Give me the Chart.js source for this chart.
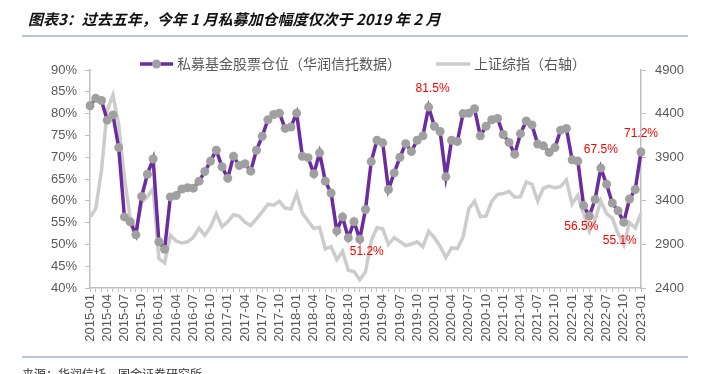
<!DOCTYPE html>
<html>
<head>
<meta charset="utf-8">
<script src="https://cdn.jsdelivr.net/npm/chart.js@4.4.1/dist/chart.umd.min.js"></script>
<style>
  html, body { margin: 0; padding: 0; background: #fff; }
  #wrap { width: 710px; height: 374px; position: relative; overflow: hidden; }
</style>
</head>
<body>
<div id="wrap"><canvas id="c" width="710" height="374"></canvas></div>
<script>
// ---- Data ----
const startYear = 2015;
const months = [];
for (let i = 0; i < 97; i++) {
  const y = startYear + Math.floor(i / 12);
  const m = (i % 12) + 1;
  months.push(y + '-' + (m < 10 ? '0' + m : m));
}

// 私募基金股票仓位（华润信托数据）, %
const privatePosition = [
  81.8, 83.5, 83.0, 78.5, 79.7, 72.2, 56.3, 55.2, 52.2, 61.0, 66.1, 69.6,
  50.6, 48.9, 60.9, 61.2, 62.7, 63.0, 62.9, 64.5, 66.7, 69.1, 71.6, 67.8,
  65.2, 70.2, 68.1, 68.5, 66.8, 71.6, 74.8, 78.6, 79.8, 80.1, 76.6, 76.9,
  80.1, 70.2, 69.9, 66.2, 71.0, 64.5, 61.8, 53.1, 56.3, 51.5, 55.2, 51.2,
  58.0, 69.0, 73.9, 73.3, 62.6, 66.4, 70.0, 73.1, 71.3, 73.9, 74.9, 81.5,
  77.1, 75.9, 65.5, 73.9, 73.6, 80.0, 80.1, 81.1, 74.9, 77.1, 78.6, 78.9,
  75.2, 73.4, 70.7, 75.4, 78.3, 77.4, 73.0, 72.6, 71.1, 72.2, 76.2, 76.6,
  69.4, 69.1, 58.9, 56.5, 60.3, 67.5, 63.8, 59.5, 57.7, 55.1, 60.4, 62.6,
  71.2
];

// 上证综指（右轴）
const shIndex = [
  3210, 3310, 3748, 4441, 4612, 4277, 3664, 3206, 3053, 3383, 3445, 3539,
  2738, 2688, 3004, 2938, 2917, 2930, 2979, 3085, 3005, 3100, 3250, 3104,
  3159, 3242, 3223, 3155, 3117, 3192, 3273, 3361, 3349, 3393, 3317, 3307,
  3481, 3259, 3169, 3082, 3095, 2847, 2876, 2725, 2821, 2603, 2588, 2494,
  2585, 2941, 3091, 3078, 2899, 2979, 2933, 2886, 2905, 2929, 2872, 3050,
  2977, 2880, 2750, 2860, 2852, 2985, 3310, 3396, 3218, 3225, 3392, 3473,
  3483, 3509, 3442, 3447, 3615, 3591, 3397, 3544, 3568, 3547, 3564, 3640,
  3362, 3462, 3252, 3047, 3186, 3399, 3253, 3202, 3024, 2893, 3151, 3089,
  3256
];

// Annotated points (indices into the series)
const labelledIdx = [59, 47, 89, 87, 93, 96];

// Axis ticks
const leftTicks = [40, 45, 50, 55, 60, 65, 70, 75, 80, 85, 90];
const rightTicks = [2400, 2900, 3400, 3900, 4400, 4900];

const seriesNames = ['私募基金股票仓位（华润信托数据）', '上证综指（右轴）'];
const titleText = '图表3：过去五年，今年 1 月私募加仓幅度仅次于 2019 年 2 月';
const sourceText = '来源：华润信托，国金证券研究所';

// ---- Styles ----
const PURPLE = '#6A2C9E';
const MARKER = '#A0A0A0';
const LGRAY = '#CCCCCC';
const AXIS = '#BFBFBF';
const TXT = '#595959';
const CJK = '"Noto Sans CJK SC", "Liberation Sans", sans-serif';
const LAT = '"Liberation Sans", "DejaVu Sans", sans-serif';

const labelOffsets = { 59: [4, -18], 47: [7, 13], 89: [0, -18], 87: [-8, 11], 93: [-4, 19], 96: [0, -18] };

const decor = {
  id: 'decor',
  beforeDraw(chart) {
    const ctx = chart.ctx;
    ctx.save();
    ctx.fillStyle = '#fff';
    ctx.fillRect(0, 0, chart.width, chart.height);
    ctx.restore();
  },
  afterDraw(chart) {
    const ctx = chart.ctx;
    ctx.save();
    // Title
    ctx.fillStyle = '#111';
    ctx.font = 'italic bold 15px ' + CJK;
    ctx.textBaseline = 'middle';
    ctx.textAlign = 'left';
    ctx.fillText(titleText, 28, 19);
    // Title rule
    ctx.strokeStyle = '#9DB3C8';
    ctx.lineWidth = 1.5;
    ctx.beginPath(); ctx.moveTo(22, 36); ctx.lineTo(688, 36); ctx.stroke();
    // Footer rule + source
    ctx.beginPath(); ctx.moveTo(22, 357); ctx.lineTo(688, 357); ctx.stroke();
    ctx.fillStyle = '#333';
    ctx.font = '12px ' + CJK;
    ctx.fillText(sourceText, 22, 374);

    // Legend
    const ly = 64;
    ctx.font = '14px ' + CJK;
    ctx.fillStyle = TXT;
    ctx.lineCap = 'butt';
    ctx.strokeStyle = PURPLE; ctx.lineWidth = 3.5;
    ctx.beginPath(); ctx.moveTo(140, ly); ctx.lineTo(173, ly); ctx.stroke();
    ctx.fillStyle = MARKER;
    ctx.beginPath(); ctx.arc(156.5, ly, 4.5, 0, Math.PI * 2); ctx.fill();
    ctx.fillStyle = TXT;
    ctx.fillText(seriesNames[0], 177, ly);
    ctx.strokeStyle = LGRAY;
    ctx.beginPath(); ctx.moveTo(436, ly); ctx.lineTo(470, ly); ctx.stroke();
    ctx.fillText(seriesNames[1], 474, ly);

    // Data labels
    const meta = chart.getDatasetMeta(0);
    ctx.fillStyle = '#FF0000';
    ctx.font = '12px ' + LAT;
    ctx.textAlign = 'center';
    labelledIdx.forEach(i => {
      const pt = meta.data[i];
      const off = labelOffsets[i] || [0, -16];
      ctx.fillText(privatePosition[i].toFixed(1) + '%', pt.x + off[0], pt.y + off[1]);
    });
    ctx.restore();
  }
};

new Chart(document.getElementById('c'), {
  type: 'line',
  data: {
    labels: months,
    datasets: [
      {
        label: seriesNames[0],
        data: privatePosition,
        yAxisID: 'y',
        borderColor: PURPLE,
        borderWidth: 3.5,
        pointRadius: 4.5,
        pointBackgroundColor: MARKER,
        pointBorderWidth: 0,
        tension: 0
      },
      {
        label: seriesNames[1],
        data: shIndex,
        yAxisID: 'y1',
        borderColor: LGRAY,
        borderWidth: 3.5,
        pointRadius: 0,
        tension: 0
      }
    ]
  },
  options: {
    responsive: false,
    animation: false,
    devicePixelRatio: 1,
    layout: { padding: { top: 70, left: 0, right: 0, bottom: 0 } },
    plugins: { legend: { display: false }, tooltip: { enabled: false }, title: { display: false } },
    scales: {
      x: {
        type: 'category',
        offset: false,
        grid: { display: true, drawOnChartArea: false, drawTicks: true, tickLength: 4, color: AXIS, lineWidth: 1 },
        border: { color: AXIS, width: 1.5 },
        ticks: {
          autoSkip: false, maxRotation: 90, minRotation: 90, padding: 2,
          color: TXT, font: { size: 13, family: LAT },
          callback: (v, i) => (i % 3 === 0 ? months[i] : '')
        },
        afterFit: s => { s.height = 374 - 288; }
      },
      y: {
        position: 'left',
        min: leftTicks[0], max: leftTicks[leftTicks.length - 1],
        afterBuildTicks: s => { s.ticks = leftTicks.map(v => ({ value: v })); },
        grid: { display: true, drawOnChartArea: false, drawTicks: true, tickLength: 5, color: AXIS },
        border: { color: AXIS, width: 1.5 },
        ticks: { color: TXT, font: { size: 13, family: LAT }, padding: 8, callback: v => v + '%' },
        afterFit: s => { s.width = 90; }
      },
      y1: {
        position: 'right',
        min: rightTicks[0], max: rightTicks[rightTicks.length - 1],
        afterBuildTicks: s => { s.ticks = rightTicks.map(v => ({ value: v })); },
        grid: { display: true, drawOnChartArea: false, drawTicks: true, tickLength: 5, color: AXIS },
        border: { color: AXIS, width: 1.5 },
        ticks: { color: TXT, font: { size: 13, family: LAT }, padding: 9, callback: v => String(v) },
        afterFit: s => { s.width = 710 - 641; }
      }
    }
  },
  plugins: [decor]
});
</script>
</body>
</html>
